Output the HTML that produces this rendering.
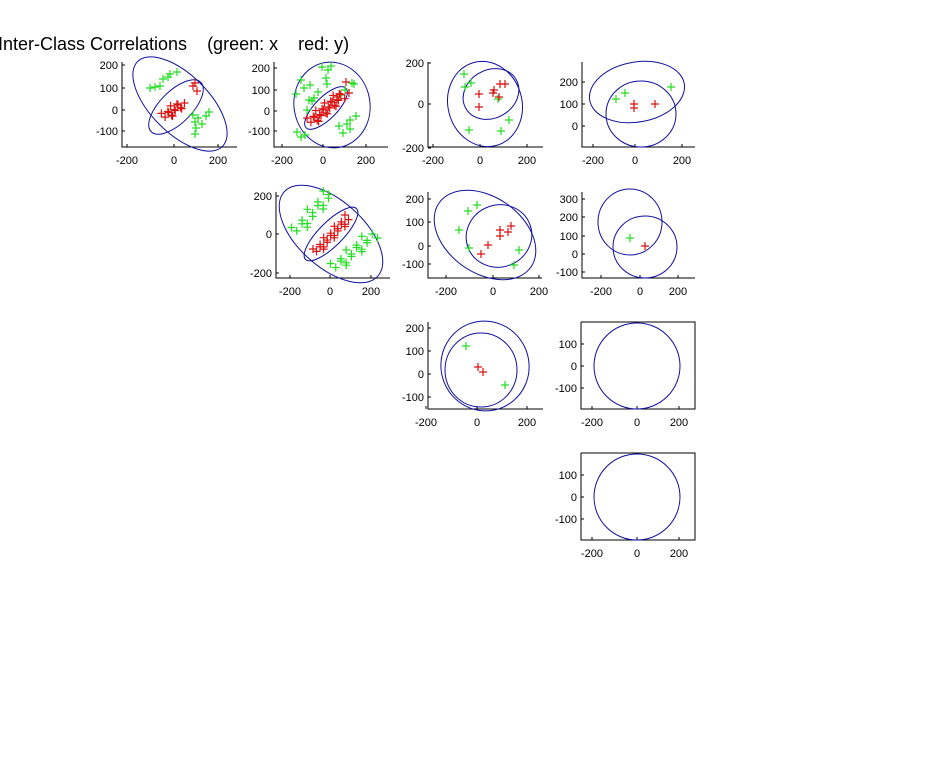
<!DOCTYPE html>
<html><head><meta charset="utf-8"><style>
html,body{margin:0;padding:0;background:#fff;}
svg{display:block;font-family:"Liberation Sans",sans-serif;}
</style></head><body>
<svg id="s" width="938" height="758" viewBox="0 0 938 758" xmlns="http://www.w3.org/2000/svg">
<text x="-2" y="50" font-size="18" fill="#000" style="white-space:pre" xml:space="preserve">Inter-Class Correlations    (green: x    red: y)</text>
</svg>
<script>
var s=document.getElementById('s'),h='';
function panel(L,T,R,B,xt,yt,box){
 h+='<path d="M'+L+' '+T+'V'+B+'H'+R+(box?'V'+T+'H'+L:'')+'" fill="none" stroke="#000" stroke-width="1"/>';
 xt.forEach(function(t){h+='<line x1="'+t[0]+'" y1="'+B+'" x2="'+t[0]+'" y2="'+(B-3)+'" stroke="#000"/><text x="'+t[0]+'" y="'+(B+17)+'" font-size="11" text-anchor="middle">'+t[1]+'</text>';});
 yt.forEach(function(t){h+='<line x1="'+L+'" y1="'+t[0]+'" x2="'+(L+3)+'" y2="'+t[0]+'" stroke="#000"/><text x="'+(L-4)+'" y="'+(t[0]+4)+'" font-size="11" text-anchor="end">'+t[1]+'</text>';});
}
function ell(cx,cy,rx,ry,a){h+='<ellipse cx="'+cx+'" cy="'+cy+'" rx="'+rx+'" ry="'+ry+'" transform="rotate('+a+' '+cx+' '+cy+')" fill="none" stroke="#1010a0" stroke-width="1"/>';}
function pts(arr,c){arr.forEach(function(p){h+='<path d="M'+(p[0]-4)+' '+p[1]+'h8M'+p[0]+' '+(p[1]-4)+'v8" stroke="'+c+'" stroke-width="1.2"/>';});}
var G='#22dd22',Rd='#dd1111';
function line(x1,y1,x2,y2,n,j){var a=[];for(var i=0;i<n;i++){var t=i/(n-1);a.push([x1+(x2-x1)*t+((i*37)%7-3)*j,y1+(y2-y1)*t+((i*53)%7-3)*j]);}return a;}
panel(122,62,237,147,[[127,'-200'],[174,'0'],[218,'200']],[[65,'200'],[88,'100'],[110,'0'],[131,'-100']]);
ell(180,104,60,29,45);ell(176,107,35,16,-45);
pts([[150,88],[155,87],[160,86],[163,79],[168,77],[170,74],[177,72],[193,115],[195,122],[196,128],[195,134],[202,124],[206,116],[209,112],[198,118]],G);
pts(line(165,117,182,103,14,1.2).concat([[193,86],[197,91],[195,83]]),Rd);
panel(274,62,388,147,[[282,'-200'],[323,'0'],[366,'200']],[[68,'200'],[90,'100'],[111,'0'],[131,'-100']]);
ell(332,105,38,43,-10);ell(326,108,28,11,-45);
pts([[301,80],[304,88],[296,94],[310,85],[309,100],[314,98],[297,132],[301,137],[305,135],[322,67],[328,70],[331,66],[326,78],[327,84],[340,95],[345,90],[352,83],[354,84],[339,126],[347,124],[350,120],[356,116],[350,129],[343,133],[307,110],[312,101],[318,92]],G);
pts(line(311,122,342,95,26,1.3).concat([[346,82],[349,93],[337,97]]),Rd);
panel(428,62,543,147,[[433,'-200'],[480,'0'],[527,'200']],[[63,'200'],[104,'0'],[148,'-200']]);
ell(485,104,37,43,-15);ell(491,94,29,24,-30);
pts([[464,74],[471,83],[465,87],[498,99],[509,120],[469,130],[501,131]],G);
pts([[479,94],[479,107],[493,93],[494,90],[499,97],[500,84],[505,84]],Rd);
panel(582,62,695,147,[[593,'-200'],[635,'0'],[682,'200']],[[82,'200'],[104,'100'],[126,'0']]);
ell(637,92,48,30,-10);ell(641,114,35,33,0);
pts([[616,99],[625,93],[671,87]],G);
pts([[634,104],[634,108],[655,104]],Rd);
panel(276,192,390,278,[[290,'-200'],[330,'0'],[371,'200']],[[196,'200'],[234,'0'],[273,'-200']]);
ell(331,234,63,33,42);ell(331,234,36,12,-45);
pts(line(296,232,330,193,16,1.5).concat(line(335,268,373,235,18,1.5)),G);
pts(line(316,252,348,218,22,1),Rd);
panel(428,192,542,278,[[446,'-200'],[493,'0'],[539,'200']],[[199,'200'],[222,'100'],[246,'0'],[264,'-100']]);
ell(485,235,56,38,35);ell(499,236,33,31,-20);
pts([[468,211],[477,205],[459,230],[469,248],[519,250],[514,265]],G);
pts([[481,254],[488,245],[500,230],[500,236],[508,232],[511,226]],Rd);
panel(582,192,695,278,[[601,'-200'],[640,'0'],[678,'200']],[[199,'300'],[217,'200'],[236,'100'],[254,'0'],[272,'-100']]);
ell(630,222,32,33,0);ell(645,247,32,31,0);
pts([[630,238]],G);pts([[645,246]],Rd);
panel(428,322,543,409,[[426,'-200'],[477,'0'],[527,'200']],[[328,'200'],[351,'100'],[374,'0'],[397,'-100']]);
ell(485,366,44,45,-20);ell(481,370,36,37,0);
pts([[466,346],[505,385]],G);pts([[478,367],[483,372]],Rd);
panel(581,322,695,409,[[592,'-200'],[637,'0'],[679,'200']],[[344,'100'],[366,'0'],[388,'-100']],true);
ell(637,366,43,43,0);
panel(581,453,695,540,[[592,'-200'],[637,'0'],[679,'200']],[[475,'100'],[497,'0'],[519,'-100']],true);
ell(637,497,43,43,0);
s.insertAdjacentHTML('beforeend',h);
</script>
</body></html>
